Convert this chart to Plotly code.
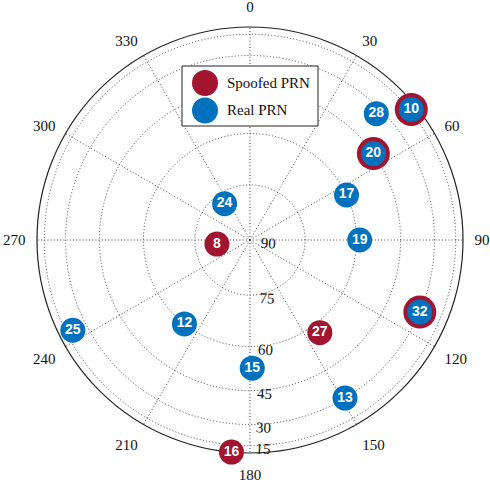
import numpy as np
import plotly.graph_objects as go

# ---- data (azimuth deg clockwise from north, elevation deg) ----
real_prn = [10, 28, 20, 17, 19, 32, 13, 15, 12, 25, 24]
real_az = [51, 45, 55, 65, 90, 113, 149, 179, 218, 243, 325]
real_el = [13, 33, 45, 60, 59, 30, 30, 53, 60, 21, 78]

spoof_prn = [10, 20, 32, 27, 16, 8]
spoof_az = [51, 55, 113, 143, 185, 263]
spoof_el = [13, 45, 30, 57, 2, 81]

elev_ticks = [90, 75, 60, 45, 30, 15]
az_ticks = [0, 30, 60, 90, 120, 150, 180, 210, 240, 270, 300, 330]

RED = "#A2142F"
BLUE = "#0072BD"
W, H = 490, 482


def proj(el):
    # orthographic sky projection: radius = cos(elevation)
    return np.cos(np.radians(np.asarray(el, dtype=float)))


fig = go.Figure()

spoof_sizes = [33 if p in real_prn else 25 for p in spoof_prn]
fig.add_trace(go.Scatterpolar(
    r=proj(spoof_el), theta=spoof_az, mode="markers+text",
    text=[f"<b>{p}</b>" for p in spoof_prn],
    textposition="middle center",
    textfont=dict(family="Liberation Sans, Arial, sans-serif", size=14, color="white"),
    marker=dict(size=spoof_sizes, color=RED, opacity=1, line=dict(width=0)),
    name="Spoofed PRN", showlegend=False, cliponaxis=False,
))
fig.add_trace(go.Scatterpolar(
    r=proj(real_el), theta=real_az, mode="markers+text",
    text=[f"<b>{p}</b>" for p in real_prn],
    textposition="middle center",
    textfont=dict(family="Liberation Sans, Arial, sans-serif", size=14, color="white"),
    marker=dict(size=25, color=BLUE, opacity=1, line=dict(width=0)),
    name="Real PRN", showlegend=False, cliponaxis=False,
))

serif = "Liberation Serif, Times New Roman, serif"
GRID = "#444444"
DASH = "1px,2.2px"

# plot circle: centre (250,240), radius 213 px
cx, cy, R = 250, 240, 213
fig.update_layout(
    width=W, height=H,
    margin=dict(l=0, r=0, t=0, b=0),
    paper_bgcolor="white",
    showlegend=False,
    polar=dict(
        domain=dict(x=[(cx - R) / W, (cx + R) / W], y=[(H - cy - R) / H, (H - cy + R) / H]),
        bgcolor="white",
        angularaxis=dict(
            direction="clockwise", rotation=90,
            tickmode="array", tickvals=az_ticks, ticktext=[str(a) for a in az_ticks],
            showline=True, linecolor="#222", linewidth=1.2, layer="below traces",
            showgrid=True, gridcolor=GRID, griddash=DASH, gridwidth=1,
            ticks="outside", ticklen=8, tickcolor="rgba(0,0,0,0)",
            tickfont=dict(family=serif, size=15, color="#111"),
        ),
        radialaxis=dict(
            range=[0, 1],
            tickmode="array", tickvals=list(proj(elev_ticks)),
            ticktext=[str(e) for e in elev_ticks],
            showline=False, ticks="", layer="below traces",
            showgrid=True, gridcolor=GRID, griddash=DASH, gridwidth=1,
            angle=-91.5, side="counterclockwise", tickangle=-88.5,
            tickfont=dict(family=serif, size=15, color="#111"),
        ),
    ),
)

# ---- legend box (drawn manually to match large marker symbols) ----
def px(x):
    return x / W


def py(y):
    return 1 - y / H


fig.add_shape(type="rect", xref="paper", yref="paper",
              x0=px(182), x1=px(318), y0=py(66), y1=py(126),
              line=dict(color="#222", width=1), fillcolor="white")
for (yc, col) in [(83, RED), (110.5, BLUE)]:
    fig.add_shape(type="circle", xref="paper", yref="paper",
                  x0=px(205 - 13), x1=px(205 + 13), y0=py(yc - 13), y1=py(yc + 13),
                  line=dict(width=0), fillcolor=col)
for (yc, label) in [(83, "Spoofed PRN"), (110.5, "Real PRN")]:
    fig.add_annotation(xref="paper", yref="paper", x=px(225), y=py(yc),
                       xanchor="left", yanchor="middle", showarrow=False,
                       text=label, font=dict(family=serif, size=15, color="#111"))

fig.write_html("out.html", post_script="document.body.style.margin='0';",
               config={"displayModeBar": False})
